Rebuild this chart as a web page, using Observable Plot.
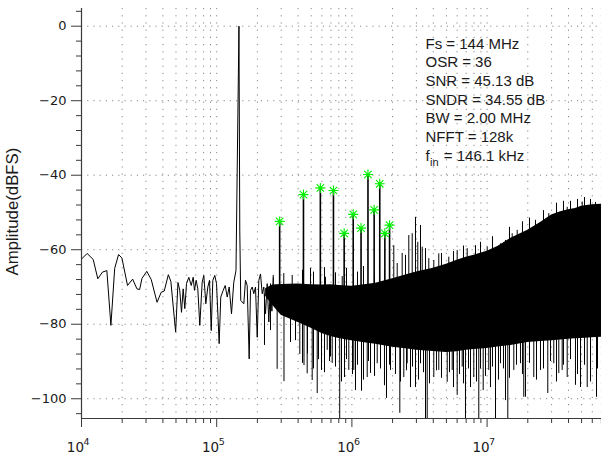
<!DOCTYPE html>
<html><head><meta charset="utf-8">
<script src="https://cdn.jsdelivr.net/npm/d3@7"></script>
<script src="https://cdn.jsdelivr.net/npm/@observablehq/plot@0.6"></script>
<style>
html,body{margin:0;padding:0;background:#fff;overflow:hidden;}
</style>
</head><body><div id="chart"></div>
<script>
// ---- Low-frequency part of the spectrum, read bin by bin (kHz, dBFS) ----
const lfFreqKHz = [10.0,11.0,12.2,13.2,14.3,15.4,16.5,17.6,18.8,19.9,21.9,23.9,25.7,26.9,28.0,30.4,32.8,36.2,38.9,40.9,43.9,45.8,49.7,51.7,53.3,54.9,56.5,58.1,59.8,62.2,64.8,67.0,68.5,70.5,72.5,75.0,78.1,80.3,83.1,86.0,88.5,91.1,93.6,96.8,99.7,104.3,107.2,111.7,115.6,119.6,123.7,128.7,133.8,138.9,146.1,148.2,150.6,158.7,163.3,168.1,173.9,177.8,183.1,188.1,193.6,199.4,204.9,210.9,217.1,223.1,229.6,236.4,242.9,250.0,256.0,262.5];
const lfDb = [-62.5,-61.0,-62.6,-67.8,-66.0,-65.6,-80.3,-65.0,-61.3,-62.2,-69.6,-67.9,-70.5,-70.7,-67.7,-65.8,-68.0,-74.1,-71.4,-71.1,-66.7,-68.5,-82.1,-68.8,-70.9,-76.8,-70.5,-75.8,-69.1,-67.4,-69.6,-67.4,-70.9,-68.2,-70.5,-80.3,-68.7,-66.9,-74.5,-70.0,-68.2,-81.7,-68.2,-66.9,-69.1,-85.2,-72.7,-70.9,-69.6,-72.7,-70.0,-77.2,-68.7,-65.6,0,-55.0,-73.6,-74.5,-68.2,-69.6,-89.3,-70.9,-70.0,-71.8,-70.0,-83.5,-68.2,-66.5,-71.8,-70.0,-77.2,-69.1,-79.4,-69.1,-76.5,-67.5];

// ---- Dense noise region: upper and lower envelope of the solid band (Hz, dBFS) ----
const bandFreqHz = [2.3e5,2.6e5,3e5,4e5,5e5,6e5,7e5,8e5,1e6,1.2e6,1.5e6,2e6,2.5e6,3e6,4e6,5e6,6e6,7e6,8e6,1e7,1.2e7,1.5e7,2e7,2.5e7,3e7,3.5e7,4e7,4.5e7,5e7,6e7,7.2e7];
const bandHiDb = [-70.5,-69.5,-69.3,-69.2,-69.4,-69.5,-69.4,-69.6,-69.8,-69.5,-69.0,-67.8,-66.8,-66.0,-65.0,-63.9,-62.8,-62.0,-61.5,-60.4,-59.1,-56.9,-54.8,-52.6,-50.7,-49.8,-49.3,-48.9,-48.3,-47.9,-47.8];
const bandLoDb = [-72.5,-75.0,-77.6,-79.5,-81.1,-82.5,-83.3,-83.8,-84.4,-84.9,-85.4,-86.2,-86.6,-87.0,-87.3,-87.6,-87.4,-87.0,-86.8,-86.5,-86.1,-85.7,-84.9,-84.6,-84.4,-84.2,-84.0,-83.9,-83.8,-83.6,-83.5];

// ---- Downward spikes below the band (Hz, dBFS) ----
const downSpikeFreqHz = [225.7e3,250e3,280e3,314.6e3,351.5e3,382.8e3,411.8e3,431.1e3,442.3e3,467e3,469.4e3,508.6e3,520e3,553.9e3,566.2e3,595.9e3,627.1e3,656.9e3,682.9e3,694.7e3,715.1e3,756.4e3,812.6e3,837.8e3,881.8e3,912.4e3,949.0e3,1.0102e6,1.0328e6,1.0631e6,1.100e6,1.178e6,1.218e6,1.2982e6,1.327e6,1.373e6,1.470e6,1.539e6,1.628e6,1.742e6,1.803e6,1.897e6,1.930e6,2.101e6,2.262e6,2.288e6,2.421e6,2.534e6,2.565e6,2.713e6,2.807e6,2.954e6,3.110e6,3.217e6,3.386e6,3.503e6,3.606e6,3.750e6,4.035e6,4.224e6,4.393e6,4.600e6,5.070e6,5.272e6,5.519e6,5.643e6,6.009e6,6.250e6,6.544e6,6.690e6,6.921e6,7.287e6,7.540e6,7.973e6,8.350e6,8.682e6,8.940e6,9.357e6,9.732e6,10.29e6,10.59e6,10.96e6,11.54e6,12.14e6,12.56e6,13.22e6,13.68e6,14.23e6,14.65e6,15.76e6,16.51e6,17.66e6,18.27e6,18.68e6,19.23e6,20.59e6,22.15e6,23.20e6,24.83e6,26.14e6,28.12e6,29.44e6,31.14e6,32.62e6,33.92e6,35.93e6,36.74e6,39.13e6,41.40e6,45.06e6,46.64e6,49.09e6,52.55e6,55.02e6,58.2e6,64.47e6,65.57e6];
const downSpikeDb = [-85.7,-81.7,-92.1,-95.4,-84.9,-84.4,-88.1,-90.5,-91.1,-93.3,-88.0,-95.1,-92.0,-98.6,-89.5,-92.4,-93.0,-87.0,-90.0,-88.8,-90.5,-91.5,-106,-95.5,-94.3,-89.5,-92.4,-93.5,-92.4,-97.8,-91.0,-98.0,-95.0,-94.3,-90.0,-93.2,-94.0,-90.6,-92.0,-96.5,-99.9,-91.0,-92.4,-93.5,-103.9,-95.5,-94.3,-92.5,-90.6,-97.0,-91.5,-97.0,-95.0,-90.6,-93.0,-106,-106,-96.0,-94.3,-92.5,-92.4,-94.5,-95.6,-93.0,-92.4,-97.0,-99.1,-93.5,-91.5,-96.0,-106,-92.0,-97.0,-94.3,-95.5,-106,-92.0,-97.8,-94.0,-92.4,-97.0,-91.5,-106,-95.0,-90.6,-92.0,-100.5,-106,-94.5,-92.4,-91.0,-90.6,-93.5,-99.6,-99.6,-90.5,-94.3,-95.0,-92.4,-92.0,-98.6,-90.0,-90.6,-95.5,-93.2,-92.4,-91.0,-94.3,-89.5,-96.4,-93.5,-97.0,-91.0,-97.0,-95.5,-99.6,-92.0];

// ---- Upward spikes above the band (Hz, dBFS) ----
const upSpikeFreqHz = [261.8e3,313.5e3,361.9e3,431.1e3,494.1e3,520e3,627.1e3,637.9e3,756.4e3,847.9e3,912.4e3,1.100e6,1.218e6,1.470e6,1.742e6,2.041e6,2.163e6,2.355e6,2.492e6,2.636e6,2.793e6,2.954e6,3.072e6,3.217e6,3.311e6,3.503e6,3.706e6,4.035e6,4.393e6,4.600e6,5.208e6,5.643e6,6.009e6,6.690e6,7.126e6,8.208e6,8.940e6,10.02e6,10.96e6,12.56e6,13.68e6,14.65e6,15.33e6,16.70e6,18.27e6,20.59e6,22.80e6,26.14e6,28.60e6,32.62e6,36.74e6,39.13e6,41.40e6,46.64e6,50.52e6,52.55e6,58.2e6,63.38e6];
const upSpikeDb = [-66.9,-66.4,-66.9,-65.5,-65.0,-66.0,-64.8,-67.4,-66.2,-67.2,-65.0,-66.0,-64.5,-66.5,-65.5,-58.9,-63.7,-61.0,-61.5,-56.2,-55.7,-51.3,-58.0,-53.5,-59.3,-59.7,-62.4,-62.9,-61.1,-61.0,-62.0,-60.5,-60.2,-59.0,-59.7,-58.9,-58.0,-59.3,-56.5,-58.4,-57.5,-54.0,-55.7,-54.8,-52.5,-51.5,-52.1,-49.5,-50.3,-47.5,-47.0,-48.6,-47.0,-46.5,-47.2,-46.0,-46.5,-47.3];

// ---- Marked harmonics 2..13 of f_in = 146.1 kHz (Hz, dBFS) ----
const harmonicFreqHz = [292.2e3,438.3e3,584.4e3,730.5e3,876.6e3,1022.7e3,1168.8e3,1314.9e3,1461.0e3,1607.1e3,1753.2e3,1899.3e3];
const harmonicDb = [-52.4,-45.2,-43.4,-44.1,-55.6,-50.5,-54.2,-39.8,-49.3,-42.3,-55.6,-53.4];

// ---- Axes ----
const xMajorTicks = [1e4,1e5,1e6,1e7];
const xTickBase = ["10","10","10","10"];
const xTickExp = ["4","5","6","7"];
const xMinorTicks = [2e4,3e4,4e4,5e4,6e4,7e4,8e4,9e4,2e5,3e5,4e5,5e5,6e5,7e5,8e5,9e5,2e6,3e6,4e6,5e6,6e6,7e6,8e6,9e6,2e7,3e7,4e7,5e7,6e7,7e7];
const yMajorTicks = [-100,-80,-60,-40,-20,0];
const yTickLabels = ["−100","−80","−60","−40","−20","0"];
const yMinorTicks = [-104,-96,-92,-88,-84,-76,-72,-68,-64,-56,-52,-48,-44,-36,-32,-28,-24,-16,-12,-8,-4,4];
const yLabel = "Amplitude(dBFS)";
const infoLines = ["Fs = 144 MHz","OSR = 36","SNR = 45.13 dB","SNDR = 34.55 dB","BW = 2.00 MHz","NFFT = 128k"];
const finBase = "f", finSub = "in", finRest = "= 146.1 kHz";

const xDomain = [1e4, 7.2e7];
const yDomain = [-105.3, 4.75];

// ---- tables built from the arrays ----
const lf = lfFreqKHz.map((f, i) => ({f: f * 1000, db: lfDb[i]}));
const band = bandFreqHz.map((f, i) => ({f, hi: bandHiDb[i], lo: bandLoDb[i]}));
const downs = downSpikeFreqHz.map((f, i) => ({f, db: downSpikeDb[i]}));
const ups = upSpikeFreqHz.map((f, i) => ({f, db: upSpikeDb[i]}));
const harm = harmonicFreqHz.map((f, i) => ({f, db: harmonicDb[i]}));
const bandCore = -72;

const asterisk = {
  draw(ctx, size) {
    const r = Math.sqrt(size / Math.PI), d = r * 0.74;
    ctx.moveTo(-r, 0); ctx.lineTo(r, 0);
    ctx.moveTo(0, -r); ctx.lineTo(0, r);
    ctx.moveTo(-d, -d); ctx.lineTo(d, d);
    ctx.moveTo(-d, d); ctx.lineTo(d, -d);
  }
};

const ink = "#1a1a1a", axisInk = "#3a3a3a", gridInk = "#6a6a6a";
const font = "'Liberation Sans', Arial, Helvetica, sans-serif";
const tickFont = "'DejaVu Sans', Verdana, sans-serif";

const chart = Plot.plot({
  width: 601, height: 456,
  marginLeft: 81, marginRight: 0, marginTop: 8, marginBottom: 38,
  x: {type: "log", domain: xDomain, range: [81, 602.5]},
  y: {domain: yDomain, range: [418, 8]},
  style: {fontFamily: font, fontSize: "15px", color: ink, background: "white"},
  marks: [
    // dotted grid
    Plot.ruleX([...xMajorTicks, ...xMinorTicks], {stroke: gridInk, strokeWidth: 0.8, strokeDasharray: "1.2,6"}),
    Plot.ruleY(yMajorTicks, {stroke: gridInk, strokeWidth: 0.8, strokeDasharray: "1.2,5"}),
    // dense noise band
    Plot.areaY(band, {x: "f", y1: "lo", y2: "hi", fill: "black", curve: "linear", clip: true}),
    Plot.ruleX(downs, {x: "f", y1: () => bandCore, y2: "db", stroke: "black", strokeWidth: 1, clip: true}),
    Plot.ruleX(ups, {x: "f", y1: () => bandCore, y2: "db", stroke: "black", strokeWidth: 1, clip: true}),
    // low-frequency trace with fundamental
    Plot.line(lf, {x: "f", y: "db", stroke: "black", strokeWidth: 1, clip: true}),
    // harmonics
    Plot.ruleX(harm, {x: "f", y1: () => bandCore, y2: "db", stroke: "black", strokeWidth: 1.6}),
    Plot.dot(harm, {x: "f", y: "db", r: 5, symbol: asterisk, stroke: "#00f000", strokeWidth: 1.1, fill: "none"}),
    // axes
    Plot.ruleX([xDomain[0]], {stroke: axisInk, strokeWidth: 1.2}),
    Plot.ruleY([yDomain[0]], {stroke: axisInk, strokeWidth: 1.2}),
    Plot.axisY(yMajorTicks, {anchor: "left", tickSize: 10, label: null, stroke: axisInk, fill: "none"}),
    Plot.axisY(yMinorTicks, {anchor: "left", tickSize: 5, label: null, stroke: axisInk, fill: "none"}),
    Plot.axisX(xMajorTicks, {anchor: "bottom", tickSize: 9, label: null, stroke: axisInk, fill: "none"}),
    Plot.axisX(xMinorTicks, {anchor: "bottom", tickSize: 5, label: null, stroke: axisInk, fill: "none"}),
    Plot.text(yMajorTicks, {y: d => d, text: (d, i) => yTickLabels[i], frameAnchor: "left", textAnchor: "end", lineAnchor: "middle", dx: -15, fill: ink, fontSize: 13, fontFamily: tickFont}),
    Plot.text(xMajorTicks, {x: d => d, text: (d, i) => xTickBase[i], frameAnchor: "bottom", textAnchor: "end", lineAnchor: "bottom", dx: 2.5, dy: 33.5, fill: ink, fontSize: 13.5, fontFamily: tickFont}),
    Plot.text(xMajorTicks, {x: d => d, text: (d, i) => xTickExp[i], frameAnchor: "bottom", textAnchor: "start", lineAnchor: "bottom", dx: 2, dy: 26, fill: ink, fontSize: 9.5, fontFamily: tickFont}),
    Plot.text([yLabel], {frameAnchor: "left", rotate: -90, textAnchor: "middle", lineAnchor: "bottom", dx: -63.5, dy: -2, fill: ink, fontSize: 16.8}),
    // annotation
    Plot.text([infoLines.join("\n")], {frameAnchor: "top-left", textAnchor: "start", lineAnchor: "bottom", lineHeight: 1.241, dx: 344, dy: 133.4, fill: ink, fontSize: 15}),
    Plot.text([finBase], {frameAnchor: "top-left", textAnchor: "start", lineAnchor: "bottom", dx: 344, dy: 152, fill: ink, fontSize: 15}),
    Plot.text([finSub], {frameAnchor: "top-left", textAnchor: "start", lineAnchor: "bottom", dx: 348.5, dy: 157, fill: ink, fontSize: 11}),
    Plot.text([finRest], {frameAnchor: "top-left", textAnchor: "start", lineAnchor: "bottom", dx: 362.3, dy: 152, fill: ink, fontSize: 15})
  ]
});
document.getElementById("chart").appendChild(chart);
</script>
</body></html>
